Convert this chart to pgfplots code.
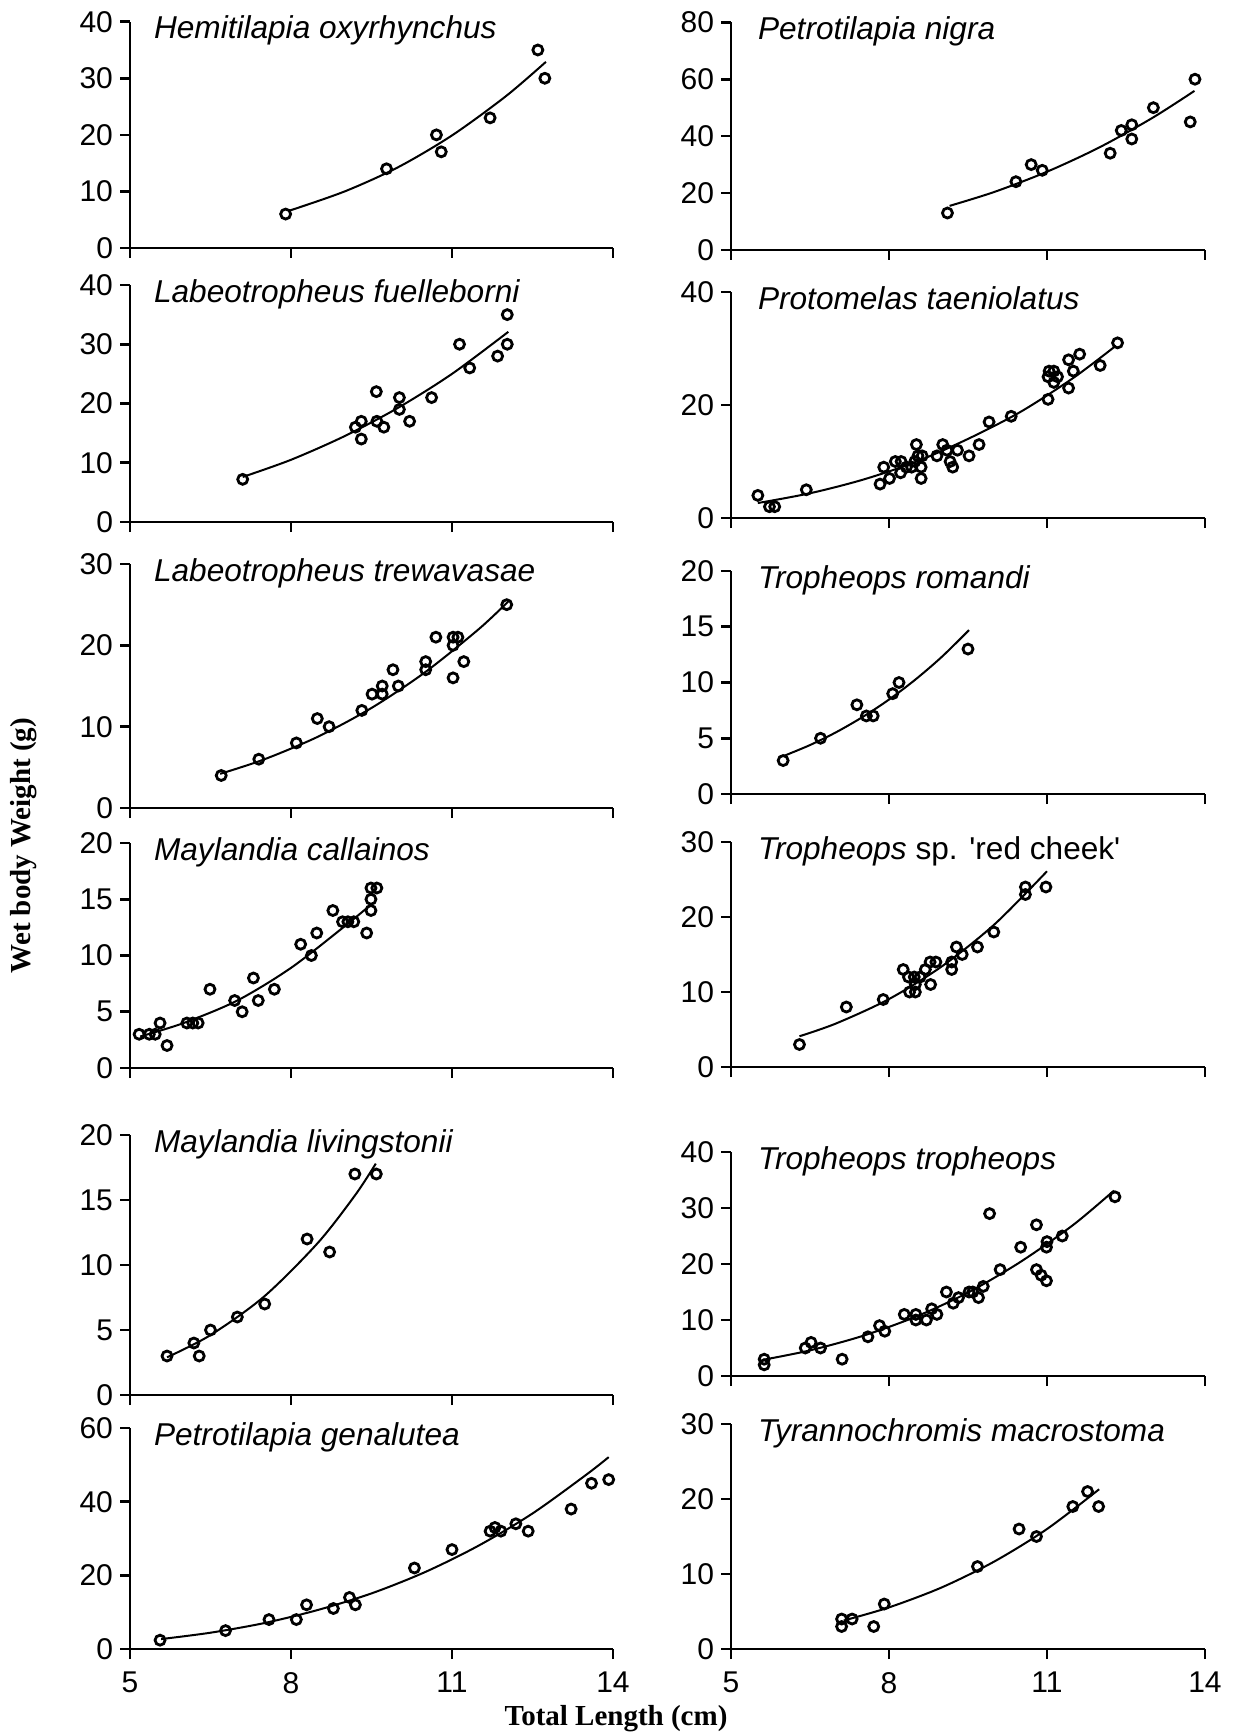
\documentclass[border=0pt]{standalone}
\usepackage{fontspec}
\setmainfont{Liberation Sans}
\newfontfamily\timesfont{Liberation Serif}
\usepackage{pgfplots}
\pgfplotsset{compat=1.18}
\pgfplotsset{
  panel/.style={
    scale only axis, anchor=south west,
    xmin=5, xmax=14, ymin=0,
    xtick={5,8,11,14},
    axis x line*=bottom, axis y line*=left,
    axis line style={line width=1.3pt,-},
    tick style={line width=1.3pt,black},
    tick align=outside, major tick length=5pt,
    /pgf/number format/assume math mode=true,
    ticklabel style={font=\fontsize{15}{17}\selectfont},
    yticklabel style={xshift=0pt},
    xticklabel style={yshift=-3pt},
    clip=false,
  },
  nox/.style={xticklabels={}},
  pts/.style={only marks, mark=o, mark size=2.5pt, mark options={line width=1.4pt, black}},
  fit/.style={smooth, no marks, line width=1pt, black},
}
\newcommand{\ttl}[2][8.5pt]{\node[anchor=base west, xshift=#1, yshift=-8.5pt, font=\itshape\fontsize{15.8}{18}\selectfont] at (rel axis cs:0,1) {#2};}
\begin{document}
\begin{tikzpicture}
\path[use as bounding box] (0,0) rectangle (616pt,-866.5pt);

% ---------- Row 1 ----------
\begin{axis}[panel, nox, at={(65pt,-124pt)}, width=241.5pt, height=113.15pt, ymax=40, ytick={0,10,20,30,40}]
\addplot[pts] table {
7.90 6
9.78 14
10.71 20
10.80 17
11.71 23
12.60 35
12.73 30
};
\addplot[fit] table {
7.97 6.6
9 10.0
10 14.3
11 19.9
12 26.8
12.75 32.9
};
\ttl{Hemitilapia oxyrhynchus}
\end{axis}

\begin{axis}[panel, nox, at={(365.5pt,-125pt)}, width=237pt, height=113.85pt, ymax=80, ytick={0,20,40,60,80}]
\addplot[pts] table {
9.11 13
10.41 24
10.70 30
10.91 28
12.20 34
12.41 42
12.61 44
12.61 39
13.02 50
13.72 45
13.81 60
};
\addplot[fit] table {
9.15 15.5
10 20.4
11 27.5
12 36.1
13 46.4
13.8 55.9
};
\ttl[10pt]{Petrotilapia nigra}
\end{axis}

% ---------- Row 2 ----------
\begin{axis}[panel, nox, at={(65pt,-261pt)}, width=241.5pt, height=118.5pt, ymax=40, ytick={0,10,20,30,40}]
\addplot[pts] table {
7.10 7.2
9.20 16
9.31 17
9.31 14
9.59 22
9.60 17
9.73 16
10.02 21
10.02 19
10.21 17
10.62 21
11.14 30
11.33 26
11.85 28
12.03 35
12.03 30
};
\addplot[fit] table {
7.1 7.6
8 10.5
9 14.5
10 19.3
11 25.0
12.05 32.1
};
\ttl{Labeotropheus fuelleborni}
\end{axis}

\begin{axis}[panel, nox, at={(365.5pt,-259pt)}, width=237pt, height=113pt, ymax=40, ytick={0,20,40}]
\addplot[pts] table {
5.51 4
5.73 2
5.83 2
6.43 5
7.83 6
7.90 9
8.01 7
8.12 10
8.22 8
8.23 10
8.33 9
8.43 9
8.49 10
8.52 13
8.55 11
8.61 9
8.61 7
8.63 11
8.91 11
9.02 13
9.10 12
9.16 10
9.21 9
9.30 12
9.52 11
9.71 13
9.90 17
10.32 18
11.02 21
11.02 25
11.04 26
11.13 26
11.13 24
11.20 25
11.41 28
11.41 23
11.50 26
11.62 29
12.01 27
12.34 31
};
\addplot[fit] table {
5.51 2.65
6.5 4.38
7.5 6.77
8.5 9.9
9.5 14.0
10.5 18.8
11.5 24.8
12.31 30.5
};
\ttl[10pt]{Protomelas taeniolatus}
\end{axis}

% ---------- Row 3 ----------
\begin{axis}[panel, nox, at={(65pt,-404pt)}, width=241.5pt, height=122pt, ymax=30, ytick={0,10,20,30}]
\addplot[pts] table {
6.70 4
7.40 6
8.10 8
8.49 11
8.71 10
9.32 12
9.51 14
9.70 14
9.70 15
9.90 17
10.00 15
10.51 18
10.51 17
10.70 21
11.02 21
11.02 20
11.11 21
11.02 16
11.22 18
12.02 25
};
\addplot[fit] table {
6.68 4.2
7.5 5.98
8.5 8.76
9.5 12.3
10.5 16.7
11.5 22.0
12.05 25.4
};
\ttl{Labeotropheus trewavasae}
\end{axis}

\begin{axis}[panel, nox, at={(365.5pt,-397pt)}, width=237pt, height=111.5pt, ymax=20, ytick={0,5,10,15,20}]
\addplot[pts] table {
5.99 3
6.70 5
7.39 8
7.57 7
7.70 7
8.07 9
8.19 10
9.50 13
};
\addplot[fit] table {
6.01 3.43
6.5 4.39
7 5.55
7.5 6.91
8 8.47
8.5 10.26
9 12.29
9.52 14.7
};
\ttl[10pt]{Tropheops romandi}
\end{axis}

% ---------- Row 4 ----------
\begin{axis}[panel, nox, at={(65pt,-534pt)}, width=241.5pt, height=112.5pt, ymax=20, ytick={0,5,10,15,20}]
\addplot[pts] table {
5.17 3
5.36 3
5.47 3
5.56 4
5.69 2
6.06 4
6.17 4
6.27 4
6.49 7
6.95 6
7.09 5
7.30 8
7.39 6
7.69 7
8.18 11
8.38 10
8.48 12
8.78 14
8.96 13
9.06 13
9.17 13
9.41 12
9.49 14
9.49 15
9.49 16
9.60 16
};
\addplot[fit] table {
5.19 2.8
6 4.0
7 6.0
8 8.9
9 12.6
9.51 14.6
};
\ttl{Maylandia callainos}
\end{axis}

\begin{axis}[panel, nox, at={(365.5pt,-533.5pt)}, width=237pt, height=112.5pt, ymax=30, ytick={0,10,20,30}]
\addplot[pts] table {
6.30 3
7.19 8
7.89 9
8.27 13
8.37 12
8.39 10
8.48 12
8.50 10
8.50 11
8.59 12
8.69 13
8.78 14
8.79 11
8.89 14
9.19 14
9.19 13
9.28 16
9.39 15
9.68 16
9.99 18
10.59 23
10.59 24
10.98 24
};
\addplot[fit] table {
6.3 4.1
7 5.82
8 9.06
9 13.4
10 19.0
11 26.1
};
\node[anchor=base west, xshift=10pt, yshift=-8.5pt, font=\fontsize{15.8}{18}\selectfont] at (rel axis cs:0,1) {\textit{Tropheops} sp. \textquotesingle red cheek\textquotesingle};
\end{axis}

% ---------- Row 5 ----------
\begin{axis}[panel, nox, at={(65pt,-697.5pt)}, width=241.5pt, height=130pt, ymax=20, ytick={0,5,10,15,20}]
\addplot[pts] table {
5.69 3
6.19 4
6.29 3
6.50 5
7.00 6
7.51 7
8.30 12
8.72 11
9.19 17
9.59 17
};
\addplot[fit] table {
5.69 2.9
6.5 4.61
7.5 7.58
8.5 11.7
9.2 15.4
9.58 17.8
};
\ttl{Maylandia livingstonii}
\end{axis}

\begin{axis}[panel, nox, at={(365.5pt,-688pt)}, width=237pt, height=112pt, ymax=40, ytick={0,10,20,30,40}]
\addplot[pts] table {
5.63 3
5.63 2
6.41 5
6.52 6
6.70 5
7.11 3
7.60 7
7.82 9
7.92 8
8.29 11
8.51 11
8.51 10
8.71 10
8.81 12
8.91 11
9.09 15
9.22 13
9.32 14
9.52 15
9.59 15
9.70 14
9.79 16
9.91 29
10.11 19
10.50 23
10.80 27
10.80 19
10.89 18
10.99 17
10.99 23
11.00 24
11.29 25
12.29 32
};
\addplot[fit] table {
5.61 2.9
6.5 4.58
7.5 7.16
8.5 10.56
9.5 14.9
10.5 20.4
11.5 27.0
12.27 33.1
};
\ttl[10pt]{Tropheops tropheops}
\end{axis}

% ---------- Row 6 ----------
\begin{axis}[panel, at={(65pt,-824.5pt)}, width=241.5pt, height=110.5pt, ymax=60, ytick={0,20,40,60}]
\addplot[pts] table {
5.56 2.4
6.78 5
7.59 8
8.10 8
8.29 12
8.79 11
9.09 14
9.20 12
10.30 22
11.00 27
11.71 32
11.80 33
11.91 32
12.19 34
12.42 32
13.22 38
13.60 45
13.92 46
};
\addplot[fit] table {
5.58 2.7
6.5 4.43
7.5 7.04
8.5 10.6
9.5 15.1
10.5 20.9
11.5 28.1
12.5 36.8
13.5 47.3
13.92 52.1
};
\ttl{Petrotilapia genalutea}
\end{axis}

\begin{axis}[panel, at={(365.5pt,-824.5pt)}, width=237pt, height=112.5pt, ymax=30, ytick={0,10,20,30}]
\addplot[pts] table {
7.10 4
7.10 3
7.30 4
7.71 3
7.91 6
9.68 11
10.47 16
10.80 15
11.49 19
11.77 21
11.98 19
};
\addplot[fit] table {
7.14 3.8
8 5.55
9 8.21
10 11.67
11 16.0
11.99 21.3
};
\ttl[10pt]{Tyrannochromis macrostoma}
\end{axis}

% ---------- axis titles ----------
\node[rotate=90, font=\timesfont\bfseries\fontsize{14.5}{16}\selectfont] at (12pt,-422.75pt) {Wet body Weight (g)};
\node[anchor=base, font=\timesfont\bfseries\fontsize{14.5}{16}\selectfont] at (308pt,-862.5pt) {Total Length (cm)};
\end{tikzpicture}
\end{document}
